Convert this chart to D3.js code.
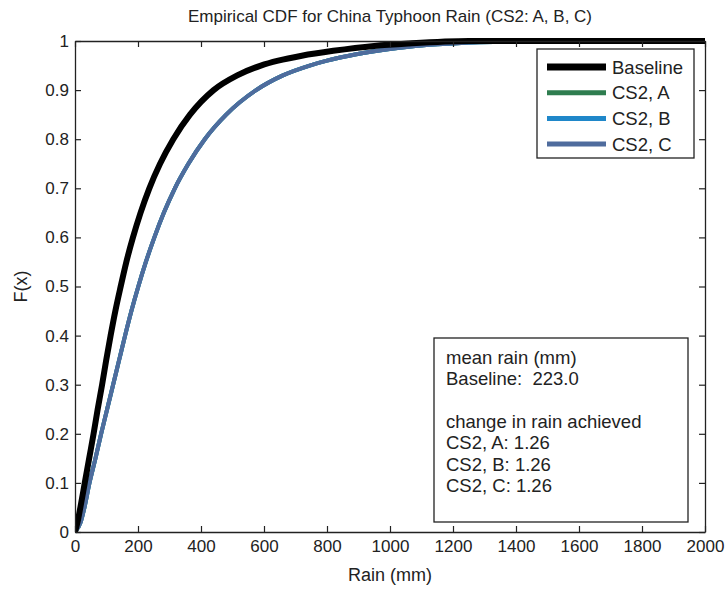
<!DOCTYPE html>
<html>
<head>
<meta charset="utf-8">
<script src="https://cdn.jsdelivr.net/npm/d3@7"></script>
<style>
  body { margin: 0; background: #fff; }
  text { font-family: "Liberation Sans", Arial, sans-serif; fill: #222; white-space: pre; }
</style>
</head>
<body>
<svg id="chart" width="728" height="589"></svg>
<script>
// rain (mm) and F(x)
const baseRain = [0, 8, 17, 31, 45, 59, 72, 86, 99, 113, 128, 145, 163, 184, 208, 236, 270, 312, 365, 440, 515, 590, 645, 720, 820, 950, 1060, 1250, 2000]
const baseF    = [0, 0.02, 0.05, 0.1, 0.15, 0.2, 0.25, 0.3, 0.35, 0.4, 0.45, 0.5, 0.55, 0.6, 0.65, 0.7, 0.75, 0.8, 0.85, 0.9, 0.93, 0.95, 0.96, 0.97, 0.98, 0.99, 0.995, 1, 1]

const csRain = [0, 18, 30, 46, 65, 83, 102, 121, 140, 159, 179, 201, 225, 252, 282, 317, 360, 412, 480, 575, 660, 745, 800, 870, 960, 1080, 1200, 1380, 1500, 2000]
const csF    = [0, 0.02, 0.05, 0.1, 0.15, 0.2, 0.25, 0.3, 0.35, 0.4, 0.45, 0.5, 0.55, 0.6, 0.65, 0.7, 0.75, 0.8, 0.85, 0.9, 0.93, 0.95, 0.96, 0.97, 0.98, 0.99, 0.995, 0.999, 1, 1]

const seriesNames = ["Baseline", "CS2, A", "CS2, B", "CS2, C"]
const seriesColors = ["#000000", "#2e7d4f", "#1f87c9", "#4f6c9d"]
const seriesWidths = [6, 4, 4, 4]
const xTicks = d3.range(0, 2001, 200)
const yTicks = d3.range(0, 1.01, 0.1)
const infoLines = ["mean rain (mm)", "Baseline:  223.0", "", "change in rain achieved", "CS2, A: 1.26", "CS2, B: 1.26", "CS2, C: 1.26"]

var svg = d3.select("#chart")
var pLeft = 75, pRight = 705, pTop = 41, pBottom = 532

var x = d3.scaleLinear().domain([0, 2000]).range([pLeft, pRight])
var y = d3.scaleLinear().domain([0, 1]).range([pBottom, pTop])

var clip = svg.append("clipPath").attr("id", "clip")
clip.append("rect").attr("x", pLeft).attr("y", pTop - 3).attr("width", pRight - pLeft + 3).attr("height", pBottom - pTop + 6)

var line = d3.line().x(d => x(d[0])).y(d => y(d[1])).curve(d3.curveMonotoneX)

var allData = [
  d3.zip(baseRain, baseF),
  d3.zip(csRain, csF),
  d3.zip(csRain, csF),
  d3.zip(csRain, csF)
]

// cs lines first, baseline on top
var order = [1, 2, 3, 0]
order.forEach(function(i) {
  svg.append("path")
    .attr("d", line(allData[i]))
    .attr("fill", "none")
    .attr("stroke", seriesColors[i])
    .attr("stroke-width", seriesWidths[i])
    .attr("clip-path", "url(#clip)")
})

// axes, ticks inside like matlab
var fmtY = d => (Math.round(d * 10) / 10).toString()
svg.append("g").attr("transform", `translate(0,${pBottom})`)
  .call(d3.axisBottom(x).tickValues(xTicks).tickSizeInner(-6).tickSizeOuter(0).tickPadding(8).tickFormat(d3.format("d")))
svg.append("g").attr("transform", `translate(0,${pTop})`)
  .call(d3.axisTop(x).tickValues(xTicks).tickSizeInner(-6).tickSizeOuter(0).tickFormat(""))
svg.append("g").attr("transform", `translate(${pLeft},0)`)
  .call(d3.axisLeft(y).tickValues(yTicks).tickSizeInner(-6).tickSizeOuter(0).tickPadding(6).tickFormat(fmtY))
svg.append("g").attr("transform", `translate(${pRight},0)`)
  .call(d3.axisRight(y).tickValues(yTicks).tickSizeInner(-6).tickSizeOuter(0).tickFormat(""))

svg.selectAll(".domain").attr("stroke", "#222").attr("stroke-width", 1.3)
svg.selectAll(".tick line").attr("stroke", "#222").attr("stroke-width", 1.2)
svg.selectAll(".tick text").attr("font-size", 17).attr("fill", "#222")
  .style("font-family", "'Liberation Sans', Arial, sans-serif")

// title and labels
svg.append("text").attr("x", (pLeft + pRight) / 2).attr("y", 22).attr("text-anchor", "middle")
  .attr("font-size", 17).text("Empirical CDF for China Typhoon Rain (CS2: A, B, C)")
svg.append("text").attr("x", (pLeft + pRight) / 2).attr("y", 581).attr("text-anchor", "middle")
  .attr("font-size", 18).text("Rain (mm)")
svg.append("text").attr("transform", `translate(27,${(pTop + pBottom) / 2}) rotate(-90)`)
  .attr("text-anchor", "middle").attr("font-size", 18).text("F(x)")

// legend
var lg = svg.append("g")
lg.append("rect").attr("x", 537).attr("y", 49).attr("width", 157).attr("height", 109)
  .attr("fill", "#fff").attr("stroke", "#222").attr("stroke-width", 1.3)
seriesNames.forEach(function(name, i) {
  var yy = 67 + i * 25.7
  lg.append("line").attr("x1", 547).attr("x2", 606).attr("y1", yy).attr("y2", yy)
    .attr("stroke", seriesColors[i]).attr("stroke-width", i === 0 ? 7 : 5)
  lg.append("text").attr("x", 612).attr("y", yy + 6.5).attr("font-size", 18.5).text(name)
})

// info box
var ib = svg.append("g")
ib.append("rect").attr("x", 434).attr("y", 338).attr("width", 254).attr("height", 184)
  .attr("fill", "#fff").attr("stroke", "#222").attr("stroke-width", 1.3)
infoLines.forEach(function(t, i) {
  ib.append("text").attr("x", 446).attr("y", 364 + i * 21.3).attr("font-size", 18.5).text(t)
})
</script>
</body>
</html>
